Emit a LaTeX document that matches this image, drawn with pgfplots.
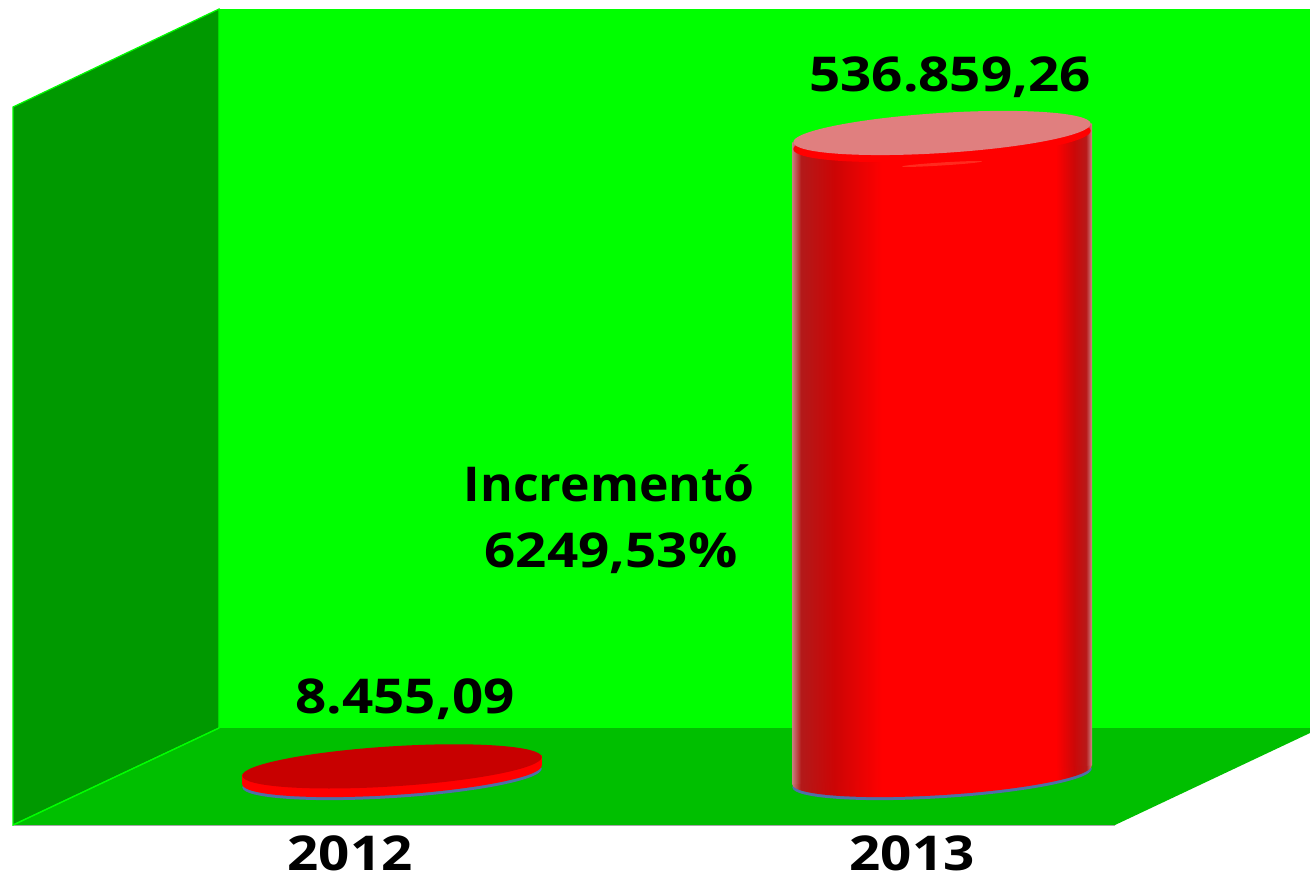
\documentclass[border=0pt]{standalone}
\usepackage{pgfplots}
\usepackage{fontspec}
\pgfplotsset{compat=1.18}
\setmainfont[FakeStretch=1.04]{Open Sans}
\newfontfamily\digitfont[FakeStretch=1.14]{Open Sans}
\newcommand{\lab}{\bfseries\fontsize{48}{58}\selectfont}
\newcommand{\dlab}{\digitfont\bfseries\fontsize{48}{58}\selectfont}
\definecolor{wallback}{HTML}{00FF00}
\definecolor{wallleft}{HTML}{009900}
\definecolor{floorgreen}{HTML}{00BF00}
\definecolor{basin}{HTML}{4F6FA8}
\definecolor{cylpink}{HTML}{E07F7F}
\definecolor{disctopred}{HTML}{C80000}
\definecolor{streak}{HTML}{FF2A1E}
\pgfdeclarehorizontalshading{cylbody}{100bp}{%
 rgb(0bp)=(0.78,0.50,0.50);
 rgb(25bp)=(0.78,0.50,0.50);
 rgb(26.5bp)=(0.70,0.10,0.10);
 rgb(32bp)=(0.80,0.02,0.02);
 rgb(40bp)=(1,0,0);
 rgb(69bp)=(1,0,0);
 rgb(72bp)=(0.80,0.03,0.03);
 rgb(74bp)=(0.72,0.10,0.10);
 rgb(75bp)=(0.80,0.55,0.55);
 rgb(100bp)=(0.80,0.55,0.55)}
% tilted ellipse: centre (x,y), half-axes a,b
\newcommand{\tiltpath}[4]{\pgfpathellipse{\pgfpoint{#1}{#2}}{\pgfpoint{#3*0.998}{#3*0.0628}}{\pgfpoint{-#4*0.0628}{#4}}}
\newcommand{\tiltfill}[5]{\pgfsetfillcolor{#1}\tiltpath{#2}{#3}{#4}{#5}\pgfusepath{fill}}
\pgfdeclareplotmark{cylbase}{%
 \tiltfill{basin}{0pt}{-3pt}{150pt}{20pt}%
 \pgfscope\tiltpath{0pt}{0pt}{150pt}{20pt}\pgfshadepath{cylbody}{0}\pgfusepath{discard}\endpgfscope}
\pgfdeclareplotmark{discbase}{%
 \tiltfill{basin}{0pt}{-3pt}{150pt}{20pt}%
 \tiltfill{red}{0pt}{0pt}{150pt}{20pt}}
\pgfdeclareplotmark{cyltop}{%
 \tiltfill{red}{0pt}{-7pt}{149pt}{20pt}%
 \tiltfill{streak}{0pt}{-31pt}{40pt}{1.5pt}%
 \tiltfill{cylpink}{0pt}{0pt}{149pt}{20pt}}
\pgfdeclareplotmark{disctop}{%
 \tiltfill{disctopred}{0pt}{-1.5pt}{150pt}{20pt}}
\begin{document}
\begin{tikzpicture}
\useasboundingbox (0pt,0pt) rectangle (1310pt,876pt);
% --- box of the 3-D chart, in picture pixels
\begin{axis}[at={(0pt,0pt)},anchor=south west,width=1310pt,height=876pt,scale only axis,
  xmin=0,xmax=1310,ymin=0,ymax=876,y dir=reverse,axis lines=none,clip=true]
\addplot[fill=wallback,draw=none] coordinates {(219,9) (1310,9) (1310,733) (219,733)} -- cycle;
\addplot[fill=floorgreen,draw=none] coordinates {(13,825) (219,728) (1310,728) (1310,733) (1115,825)} -- cycle;
\addplot[fill=wallleft,draw=wallback,line width=1.2pt] coordinates {(13,107) (219,9) (219,728) (13,825)} -- cycle;
\addplot[draw=wallback,line width=1.2pt] coordinates {(13,825) (219,728)};
\addplot[draw=black!35,line width=1pt] coordinates {(14,825.5) (1115,825.5)};
\node[font=\lab,anchor=center] at (axis cs:609,483) {Incrementó};
\node[font=\dlab,anchor=center] at (axis cs:611,553) {6249,53\%};
\end{axis}
% --- the two values
\begin{axis}[at={(0pt,51pt)},anchor=south west,width=1310pt,height=816pt,scale only axis,
  xmin=-0.71273,xmax=1.66909,ymin=-41810,ymax=640529,clip=false,clip marker paths=true,
  axis line style={draw=none},major tick length=0pt,ytick=\empty,
  xtick={-0.0764,0.9455},xticklabels={2012,2013},
  xticklabel style={font=\dlab,inner sep=0pt,anchor=center,yshift=-28pt},
  every node near coord/.append style={font=\dlab,anchor=center}]
\addplot[only marks,mark=discbase] coordinates {(0,0)};
\addplot[fill=red,draw=none] coordinates {(-0.2727,-7944) (-0.2727,511) (0.2727,16399) (0.2727,7944)} -- cycle;
\addplot[only marks,mark=cylbase] coordinates {(1,0)};
\addplot[shading=cylbody,draw=none] coordinates {(0.7273,-7944) (0.7273,528915) (1.2727,544803) (1.2727,7944)} -- cycle;
\addplot[only marks,mark=disctop,point meta=explicit symbolic,nodes near coords,
  nodes near coords style={yshift=66pt,xshift=13pt}] coordinates {(0,8455.09) [{8.455,09}]};
\addplot[only marks,mark=cyltop,point meta=explicit symbolic,nodes near coords,
  nodes near coords style={yshift=56pt,xshift=8pt}] coordinates {(1,536859.26) [{536.859,26}]};
\end{axis}
\end{tikzpicture}
\end{document}
